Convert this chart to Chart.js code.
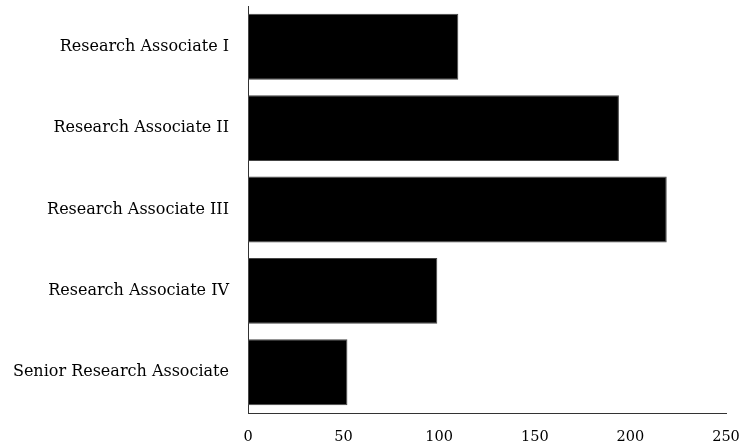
<!DOCTYPE html>
<html>
<head>
<meta charset="utf-8">
<script src="https://cdn.jsdelivr.net/npm/chart.js@4/dist/chart.umd.min.js"></script>
<style>
html,body{margin:0;padding:0;background:#fff;}
#wrap{width:742px;height:444px;position:relative;}
</style>
</head>
<body>
<div id="wrap"><canvas id="c"></canvas></div>
<script>
const categories = ["Research Associate I","Research Associate II","Research Associate III","Research Associate IV","Senior Research Associate"];
const values = [110, 194, 219, 99, 52];
const xTicks = [0, 50, 100, 150, 200, 250];

const yFont = {family: "'DejaVu Serif', 'Liberation Serif', serif", size: 16};
const xFont = {family: "'DejaVu Serif', 'Liberation Serif', serif", size: 14.5};

new Chart(document.getElementById('c'), {
  type: 'bar',
  data: {
    labels: categories,
    datasets: [{
      data: values,
      backgroundColor: '#000',
      borderColor: '#444',
      borderWidth: 1,
      borderSkipped: false,
      barPercentage: 0.81,
      categoryPercentage: 1.0
    }]
  },
  options: {
    indexAxis: 'y',
    responsive: true,
    maintainAspectRatio: false,
    animation: false,
    layout: {padding: {top: 6, right: 16, left: 0, bottom: 0}},
    plugins: {legend: {display: false}, tooltip: {enabled: false}},
    scales: {
      x: {
        min: 0, max: 250,
        afterBuildTicks: s => { s.ticks = xTicks.map(v => ({value: v})); },
        afterFit: s => { s.height = 31; s.paddingLeft = 0; s.paddingRight = 0; },
        grid: {display: false, drawTicks: false},
        border: {display: true, color: '#333', width: 1},
        ticks: {color: '#000', font: xFont, padding: 16, maxRotation: 0}
      },
      y: {
        afterFit: s => { s.width = 248; s.paddingTop = 0; s.paddingBottom = 0; },
        grid: {display: false, drawTicks: false},
        border: {display: true, color: '#333', width: 1},
        ticks: {color: '#000', font: yFont, padding: 19}
      }
    }
  }
});
</script>
</body>
</html>
